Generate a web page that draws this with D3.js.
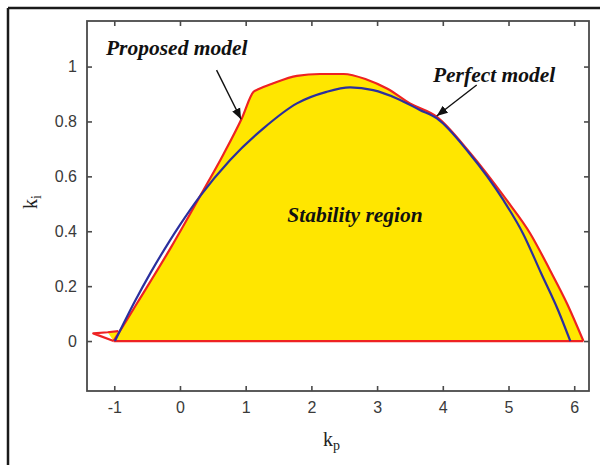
<!DOCTYPE html>
<html>
<head>
<meta charset="utf-8">
<script src="https://cdn.jsdelivr.net/npm/d3@7"></script>
<style>
  html, body { margin: 0; padding: 0; background: #fff; }
  svg { display: block; }
</style>
</head>
<body>
<svg id="chart" width="600" height="465"></svg>
<script>
// Stability boundary in the (kp, ki) plane — proposed model (red, filled region)
const proposedKp = [-1.01, -0.92, -0.64, -0.13, 0.33, 0.66, 0.94, 1.12, 1.19, 1.42, 1.78, 2.13, 2.49, 2.84, 3.15, 3.50, 3.91, 4.40, 4.97, 5.33, 5.63, 5.89, 6.14];
const proposedKi = [0.000, 0.034, 0.143, 0.344, 0.538, 0.680, 0.811, 0.908, 0.917, 0.939, 0.966, 0.973, 0.973, 0.953, 0.920, 0.866, 0.817, 0.690, 0.514, 0.392, 0.259, 0.137, 0.000];

// Small spurious branch of the proposed boundary left of kp = -1
const tailKp = [-1.01, -1.32, -1.10, -0.94];
const tailKi = [0.000, 0.028, 0.032, 0.036];

// Stability boundary — perfect model (blue)
const perfectKp = [-0.99, -0.69, -0.44, -0.18, 0.00, 0.30, 0.76, 1.27, 1.78, 2.23, 2.59, 2.94, 3.30, 3.65, 3.91, 4.40, 4.92, 5.22, 5.50, 5.75, 5.94];
const perfectKi = [0.000, 0.143, 0.252, 0.356, 0.423, 0.526, 0.659, 0.775, 0.866, 0.908, 0.924, 0.914, 0.884, 0.842, 0.811, 0.685, 0.514, 0.392, 0.245, 0.115, 0.000];

// Tick labels
const xTicks = [-1, 0, 1, 2, 3, 4, 5, 6];
const yTicks = [0, 0.2, 0.4, 0.6, 0.8, 1];

const svg = d3.select("#chart");
const W = 600, H = 465;
const plotL = 87, plotR = 589, plotT = 21, plotB = 391;

const x = d3.scaleLinear().domain([-1.415, 6.225]).range([plotL, plotR]);
const y = d3.scaleLinear().domain([-0.182, 1.166]).range([plotB, plotT]);

// outer frame (top and left edges)
svg.append("line").attr("x1", 8).attr("y1", 8).attr("x2", W).attr("y2", 8)
  .attr("stroke", "#1a1a1a").attr("stroke-width", 2.5);
svg.append("line").attr("x1", 8).attr("y1", 8).attr("x2", 8).attr("y2", H)
  .attr("stroke", "#1a1a1a").attr("stroke-width", 2.5);

const zip = (a, b) => a.map((v, i) => [v, b[i]]);
const proposed = zip(proposedKp, proposedKi);
const tail = zip(tailKp, tailKi);
const perfect = zip(perfectKp, perfectKi);

const plot = svg.append("g");
const lineMono = d3.line().x(d => x(d[0])).y(d => y(d[1])).curve(d3.curveMonotoneX);
const lineLin = d3.line().x(d => x(d[0])).y(d => y(d[1]));

// filled stability region
const area = d3.area()
  .x(d => x(d[0])).y0(y(0)).y1(d => y(d[1]))
  .curve(d3.curveMonotoneX);
plot.append("path").datum(proposed).attr("d", area).attr("fill", "#ffe600");
plot.append("path").datum([tail[0], tail[2], tail[3], tail[0]])
  .attr("d", lineLin).attr("fill", "#ffe600");

const red = "#ee2222", blue = "#2b2f9e";
// proposed boundary: curve, ki = 0 edge and the small branch
plot.append("path").datum(proposed).attr("d", lineMono)
  .attr("fill", "none").attr("stroke", red).attr("stroke-width", 2.2);
plot.append("path").datum([[proposedKp[0], 0], [proposedKp[proposedKp.length - 1], 0]])
  .attr("d", lineLin).attr("fill", "none").attr("stroke", red).attr("stroke-width", 2.2);
plot.append("path").datum(tail).attr("d", lineLin)
  .attr("fill", "none").attr("stroke", red).attr("stroke-width", 2.2)
  .attr("stroke-linejoin", "round");

// perfect model boundary
plot.append("path").datum(perfect).attr("d", lineMono)
  .attr("fill", "none").attr("stroke", blue).attr("stroke-width", 2.2);

// axes box with inward ticks on all four sides
const axisColor = "#4a4a4a";
const tickFont = "'Liberation Sans', Arial, sans-serif";
const fmtX = d => String(d);
const fmtY = d => (d === 0 || d === 1) ? String(d) : d.toFixed(1);
const gx = svg.append("g").attr("transform", `translate(0,${plotB})`)
  .call(d3.axisBottom(x).tickValues(xTicks).tickSizeInner(-5).tickSizeOuter(0).tickPadding(11).tickFormat(fmtX));
const gxt = svg.append("g").attr("transform", `translate(0,${plotT})`)
  .call(d3.axisTop(x).tickValues(xTicks).tickSizeInner(-5).tickSizeOuter(0).tickFormat(""));
const gy = svg.append("g").attr("transform", `translate(${plotL},0)`)
  .call(d3.axisLeft(y).tickValues(yTicks).tickSizeInner(-5).tickSizeOuter(0).tickPadding(10).tickFormat(fmtY));
const gyr = svg.append("g").attr("transform", `translate(${plotR},0)`)
  .call(d3.axisRight(y).tickValues(yTicks).tickSizeInner(-5).tickSizeOuter(0).tickFormat(""));
[gx, gxt, gy, gyr].forEach(g => {
  g.select(".domain").remove();
  g.selectAll("line").attr("stroke", axisColor).attr("stroke-width", 1.6);
  g.selectAll("text").attr("fill", "#3a3a3a").style("font-family", tickFont).style("font-size", "16px");
});
svg.append("rect").attr("x", plotL).attr("y", plotT)
  .attr("width", plotR - plotL).attr("height", plotB - plotT)
  .attr("fill", "none").attr("stroke", axisColor).attr("stroke-width", 1.8);

// axis titles
const serif = "'Liberation Serif', 'Times New Roman', serif";
const xt = svg.append("text").attr("x", 323).attr("y", 446)
  .style("font-family", serif).style("font-size", "20px").attr("fill", "#222");
xt.append("tspan").text("k");
xt.append("tspan").attr("dy", 4).style("font-size", "14px").text("p");

const yt = svg.append("text").attr("transform", "translate(37,209) rotate(-90)")
  .style("font-family", serif).style("font-size", "20px").attr("fill", "#222");
yt.append("tspan").text("k");
yt.append("tspan").attr("dy", 4).style("font-size", "14px").text("i");

// annotations
const labelStyle = sel => sel.style("font-family", serif).style("font-style", "italic")
  .style("font-weight", "bold").style("font-size", "21.5px").attr("fill", "#111");

svg.append("text").attr("x", x(-1.126)).attr("y", y(1.042)).text("Proposed model").call(labelStyle);
svg.append("text").attr("x", x(3.85)).attr("y", y(0.945)).text("Perfect model").call(labelStyle);
svg.append("text").attr("x", x(2.664)).attr("y", y(0.434)).attr("text-anchor", "middle")
  .text("Stability region").call(labelStyle);

svg.append("defs").append("marker")
  .attr("id", "head").attr("viewBox", "0 0 10 10").attr("refX", 10).attr("refY", 5)
  .attr("markerWidth", 11).attr("markerHeight", 11).attr("markerUnits", "userSpaceOnUse")
  .attr("orient", "auto")
  .append("path").attr("d", "M0,1 L10,5 L0,9 Z").attr("fill", "#111");

const arrow = (k0, i0, k1, i1) => svg.append("line")
  .attr("x1", x(k0)).attr("y1", y(i0)).attr("x2", x(k1)).attr("y2", y(i1))
  .attr("stroke", "#111").attr("stroke-width", 1.4).attr("marker-end", "url(#head)");
arrow(0.557, 0.987, 0.93, 0.808);
arrow(4.516, 0.933, 3.907, 0.820);
</script>
</body>
</html>
